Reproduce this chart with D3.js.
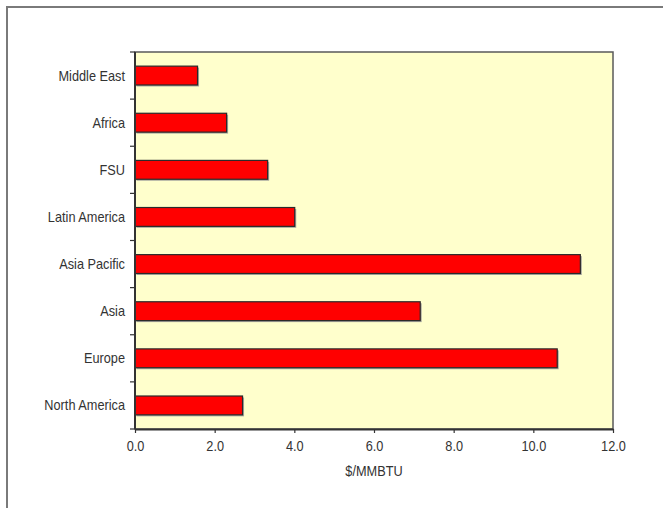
<!DOCTYPE html>
<html>
<head>
<meta charset="utf-8">
<script src="https://cdn.jsdelivr.net/npm/d3@7/dist/d3.min.js"></script>
<style>
  html, body { margin: 0; padding: 0; background: #fff; }
  svg { display: block; }
  text { font-family: "Liberation Sans", Arial, sans-serif; fill: #333; }
</style>
</head>
<body>
<svg id="chart" width="663" height="508"></svg>
<script>
const categories = ["Middle East", "Africa", "FSU", "Latin America", "Asia Pacific", "Asia", "Europe", "North America"];
const values = [1.57, 2.30, 3.33, 4.01, 11.18, 7.16, 10.60, 2.70];
const xTicks = [0, 2, 4, 6, 8, 10, 12];
const xLabel = "$/MMBTU";

const svg = d3.select("#chart");
const pLeft = 135, pRight = 613, pTop = 52, pBottom = 429;
const FS = 14, SX = 0.91;

// outer frame
svg.append("path")
  .attr("d", `M7,508 L7,7 L663,7`)
  .attr("fill", "none").attr("stroke", "#7a7a7a").attr("stroke-width", 2);

const x = d3.scaleLinear().domain([0, 12]).range([pLeft, pRight]);
const y = d3.scaleBand().domain(categories).range([pTop, pBottom]).paddingInner(0.6).paddingOuter(0.3);

// plot background
svg.append("rect")
  .attr("x", pLeft).attr("y", pTop).attr("width", pRight - pLeft).attr("height", pBottom - pTop)
  .attr("fill", "#ffffcc").attr("stroke", "#5a5a5a").attr("stroke-width", 1.5);

// bar shadows
svg.append("g").selectAll("rect").data(categories).join("rect")
  .attr("x", x(0) + 1.5)
  .attr("y", d => y(d) + 1.5)
  .attr("width", (d, i) => x(values[i]) - x(0))
  .attr("height", y.bandwidth())
  .attr("fill", "#a8a8a0");

// bars
svg.append("g").selectAll("rect").data(categories).join("rect")
  .attr("x", x(0))
  .attr("y", d => y(d))
  .attr("width", (d, i) => x(values[i]) - x(0))
  .attr("height", y.bandwidth())
  .attr("fill", "#ff0000").attr("stroke", "#2a2a2a").attr("stroke-width", 1.2);

// x axis
const xAxis = d3.axisBottom(x).tickValues(xTicks).tickFormat(d3.format(".1f")).tickSizeOuter(0).tickSizeInner(4).tickPadding(8);
const gx = svg.append("g").attr("transform", `translate(0,${pBottom})`).call(xAxis);
gx.select(".domain").attr("stroke", "#333").attr("stroke-width", 2);
gx.selectAll(".tick line").attr("stroke", "#333").attr("stroke-width", 1.2);
gx.selectAll(".tick text")
  .attr("font-size", FS).attr("font-family", "Liberation Sans, Arial, sans-serif").attr("fill", "#333")
  .attr("transform", `scale(${SX},1)`)
  .attr("x", 0);

// y axis: ticks at band boundaries
const bounds = d3.range(categories.length + 1).map(i => pTop + i * (pBottom - pTop) / categories.length);
svg.append("g").selectAll("line").data(bounds).join("line")
  .attr("x1", pLeft - 5).attr("x2", pLeft).attr("y1", d => d).attr("y2", d => d)
  .attr("stroke", "#333").attr("stroke-width", 1.2);
svg.append("line").attr("x1", pLeft).attr("x2", pLeft).attr("y1", pTop).attr("y2", pBottom)
  .attr("stroke", "#333").attr("stroke-width", 2);

// y labels
svg.append("g").selectAll("text").data(categories).join("text")
  .attr("transform", d => `translate(${pLeft - 10},${y(d) + y.bandwidth() / 2}) scale(${SX},1)`)
  .attr("dy", "0.36em")
  .attr("text-anchor", "end")
  .attr("font-size", FS)
  .text(d => d);

// x label
svg.append("text")
  .attr("transform", `translate(${(pLeft + pRight) / 2},476) scale(${SX},1)`)
  .attr("text-anchor", "middle").attr("font-size", FS)
  .text(xLabel);
</script>
</body>
</html>
